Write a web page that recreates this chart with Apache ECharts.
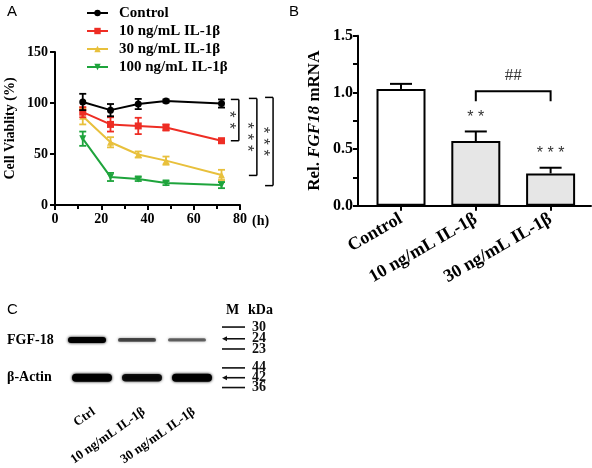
<!DOCTYPE html>
<html><head><meta charset="utf-8">
<script src="https://cdn.jsdelivr.net/npm/echarts@6/dist/echarts.min.js"></script>
<style>html,body{margin:0;padding:0;background:#fff}#c{width:592px;height:468px}</style>
</head><body><div id="c"></div>
<script>
// ---------- Panel A: cell viability ----------
const hours = [12, 24, 36, 48, 72];
const seriesNames = ['Control', '10 ng/mL IL-1β', '30 ng/mL IL-1β', '100 ng/mL IL-1β'];
const controlMean = [101, 93, 99, 102, 99.5];
const controlErr = [8, 6, 5, 1.5, 4];
const il10Mean = [91, 79, 77.5, 76, 63];
const il10Err = [5, 7, 8, 3, 2];
const il30Mean = [87, 61.5, 49.5, 43.5, 29.5];
const il30Err = [8, 5, 3, 4, 5];
const il100Mean = [65, 27.5, 25.5, 21.5, 19.5];
const il100Err = [7, 4, 2, 2, 3];
const viabilityTicks = [0, 50, 100, 150];
const hourTicks = [0, 20, 40, 60, 80];
// significance vs control at 72 h
const sigTop = [103.5, 104.5, 105.5];
const sigBottom = [63, 29, 19];
const sigLabels = ['**', '***', '***'];
const sigBracketX = [79.5, 87.3, 94.3];

// ---------- Panel B: FGF18 mRNA ----------
const mrnaGroups = ['Control', '10 ng/mL IL-1β', '30 ng/mL IL-1β'];
const mrnaMean = [1.03, 0.57, 0.285];
const mrnaErr = [0.045, 0.085, 0.05];
const mrnaStars = ['', '**', '***'];
const mrnaTicks = [0, 0.5, 1.0, 1.5];
const compareLabel = '##';
const compareLevel = 1.01;

// ---------- Panel C: western blot ----------
const blotLanes = ['Ctrl', '10 ng/mL IL-1β', '30 ng/mL IL-1β', 'M'];
const blotRows = ['FGF-18', 'β-Actin'];
const fgf18Intensity = [1.0, 0.5, 0.38];
const actinIntensity = [1.0, 0.85, 1.0];
const ladderLabels = [['30', '24', '23'], ['44', '42', '36']];
const ladderPos = [[-0.34, -0.03, 0.24], [-0.26, 0, 0.26]];
const ladderArrow = [[0, 1, 0], [0, 1, 0]];

const serif = 'Liberation Serif';
const sans = 'Liberation Sans';
const colors = ['#000000', '#ee2d24', '#e8c03c', '#1ea43c'];
const symbols = ['circle', 'rect', 'triangle', 'path://M0,0L10,0L5,9Z'];
const means = [controlMean, il10Mean, il30Mean, il100Mean];
const errs = [controlErr, il10Err, il30Err, il100Err];
const laneShift = 7; // blot lanes sit slightly left of the lane label anchors

function errBoth(color, cap) {
  return function (params, api) {
    const x = api.value(0), m = api.value(1), e = api.value(2);
    const top = api.coord([x, m + e]);
    const bot = api.coord([x, m - e]);
    const st = { stroke: color, lineWidth: 1.8 };
    return { type: 'group', children: [
      { type: 'line', shape: { x1: top[0], y1: top[1], x2: bot[0], y2: bot[1] }, style: st },
      { type: 'line', shape: { x1: top[0] - cap, y1: top[1], x2: top[0] + cap, y2: top[1] }, style: st },
      { type: 'line', shape: { x1: bot[0] - cap, y1: bot[1], x2: bot[0] + cap, y2: bot[1] }, style: st }
    ]};
  };
}
function errUp(params, api) {
  const x = api.value(0), m = api.value(1), e = api.value(2);
  const top = api.coord([x, m + e]);
  const base = api.coord([x, m]);
  const st = { stroke: '#000', lineWidth: 2 };
  return { type: 'group', children: [
    { type: 'line', shape: { x1: top[0], y1: top[1], x2: base[0], y2: base[1] }, style: st },
    { type: 'line', shape: { x1: top[0] - 11, y1: top[1], x2: top[0] + 11, y2: top[1] }, style: st }
  ]};
}

const series = [];
means.forEach((m, i) => {
  series.push({
    type: 'line', name: seriesNames[i], xAxisIndex: 0, yAxisIndex: 0,
    data: hours.map((h, j) => [h, m[j]]),
    symbol: symbols[i], symbolSize: 7,
    lineStyle: { color: colors[i], width: 2 }, itemStyle: { color: colors[i] },
    z: 10 - i, animation: false
  });
  series.push({
    type: 'custom', name: seriesNames[i] + ' error', xAxisIndex: 0, yAxisIndex: 0,
    data: hours.map((h, j) => [h, m[j], errs[i][j]]),
    renderItem: errBoth(colors[i], 3.5), z: 10 - i, animation: false
  });
});

// significance brackets in A
series.push({
  type: 'custom', xAxisIndex: 0, yAxisIndex: 0, clip: false, animation: false, z: 12,
  data: sigLabels.map((l, i) => [sigBracketX[i], sigTop[i], sigBottom[i], i]),
  renderItem: function (params, api) {
    const x = api.value(0);
    const t = api.coord([x, api.value(1)]), b = api.coord([x, api.value(2)]);
    const st = { stroke: '#000', lineWidth: 1.5 };
    const lbl = sigLabels[api.value(3)].split('').join(' ');
    return { type: 'group', children: [
      { type: 'line', shape: { x1: t[0], y1: t[1], x2: b[0], y2: b[1] }, style: st },
      { type: 'line', shape: { x1: t[0] - 8, y1: t[1], x2: t[0], y2: t[1] }, style: st },
      { type: 'line', shape: { x1: b[0] - 8, y1: b[1], x2: b[0], y2: b[1] }, style: st },
      { type: 'text', x: t[0] - 10, y: (t[1] + b[1]) / 2, rotation: -Math.PI / 2,
        style: { text: lbl, fill: '#3a3a3a', font: '17px ' + sans, align: 'center', verticalAlign: 'middle' } }
    ]};
  }
});

// Panel B bars
series.push({
  type: 'bar', xAxisIndex: 1, yAxisIndex: 1, barWidth: 49, animation: false,
  data: mrnaMean.map((v, i) => ({ value: [i, v], itemStyle: { color: i === 0 ? '#ffffff' : '#e6e6e6' } })),
  itemStyle: { borderColor: '#000', borderWidth: 2 }, z: 2
});
series.push({
  type: 'custom', xAxisIndex: 1, yAxisIndex: 1, animation: false, z: 3,
  data: mrnaMean.map((v, i) => [i, v, mrnaErr[i]]),
  renderItem: errUp
});
series.push({
  type: 'custom', xAxisIndex: 1, yAxisIndex: 1, animation: false, z: 3,
  data: mrnaMean.map((v, i) => [i, v + mrnaErr[i]]).filter((d, i) => mrnaStars[i] !== ''),
  renderItem: function (params, api) {
    const i = api.value(0);
    const p = api.coord([i, api.value(1)]);
    return { type: 'text', x: p[0], y: p[1] - 14,
      style: { text: mrnaStars[i].split('').join(' '), fill: '#333', font: '16px ' + sans, align: 'center', verticalAlign: 'middle' } };
  }
});
series.push({
  type: 'custom', xAxisIndex: 1, yAxisIndex: 1, animation: false, z: 3,
  data: [[1.5, compareLevel]],
  renderItem: function (params, api) {
    const a = api.coord([1, api.value(1)]), b = api.coord([2, api.value(1)]);
    return { type: 'group', children: [
      { type: 'polyline', shape: { points: [[a[0], a[1] + 10], [a[0], a[1]], [b[0], b[1]], [b[0], b[1] + 10]] }, style: { stroke: '#000', lineWidth: 2, fill: null } },
      { type: 'text', x: (a[0] + b[0]) / 2, y: a[1] - 16,
        style: { text: compareLabel, fill: '#333', font: '17px ' + serif, align: 'center', verticalAlign: 'middle' } }
    ]};
  }
});

// Panel C bands
const bandData = [];
fgf18Intensity.forEach((v, i) => bandData.push([i, 0, v]));
actinIntensity.forEach((v, i) => bandData.push([i, 1, v]));
series.push({
  type: 'custom', xAxisIndex: 2, yAxisIndex: 2, animation: false, clip: false,
  data: bandData,
  renderItem: function (params, api) {
    const lane = api.value(0), row = api.value(1), v = api.value(2);
    const c = api.coord([lane, row]);
    const bw = api.size([1, 0])[0];
    const w = bw * (row === 0 ? 0.76 : 0.8);
    const h = row === 0 ? 1.5 + 4.5 * v : 5 + 3 * v;
    const cx = c[0] - laneShift + (row === 0 ? 0 : 5);
    const a = 0.25 + 0.75 * v;
    const col = 'rgba(0,0,0,' + a.toFixed(2) + ')';
    return { type: 'rect', shape: { x: cx - w / 2, y: c[1] - h / 2, width: w, height: h, r: h / 2 },
      style: { fill: col, shadowBlur: 3, shadowColor: col } };
  }
});
// ladder
const ladderData = [];
ladderLabels.forEach((row, r) => row.forEach((l, k) => ladderData.push([3, r, ladderPos[r][k], r * 3 + k])));
series.push({
  type: 'custom', xAxisIndex: 2, yAxisIndex: 2, animation: false, clip: false,
  data: ladderData,
  renderItem: function (params, api) {
    const c = api.coord([api.value(0), api.value(1)]);
    const cx = c[0] - laneShift;
    const bh = api.size([0, 1])[1];
    const y = c[1] + api.value(2) * bh;
    const idx = api.value(3), r = Math.floor(idx / 3), k = idx % 3;
    const arrow = ladderArrow[r][k];
    const x0 = cx - 15, x1 = cx + 8;
    const kids = [
      { type: 'line', shape: { x1: x0 + (arrow ? 3 : 0), y1: y, x2: x1, y2: y }, style: { stroke: '#111', lineWidth: 1.6 } },
      { type: 'text', x: cx + 15, y: y, style: { text: ladderLabels[r][k], fill: '#111', font: 'bold 14px ' + serif, align: 'left', verticalAlign: 'middle' } }
    ];
    if (arrow) kids.push({ type: 'polygon', shape: { points: [[x0, y], [x0 + 5, y - 2.5], [x0 + 5, y + 2.5]] }, style: { fill: '#111' } });
    return { type: 'group', children: kids };
  }
});

const boldSerif = (s) => ({ fontFamily: serif, fontWeight: 'bold', fontSize: s, color: '#000' });

const option = {
  backgroundColor: '#fff',
  animation: false,
  legend: {
    data: seriesNames, orient: 'vertical', left: 81, top: 0,
    itemWidth: 21, itemHeight: 8, itemGap: 2,
    textStyle: Object.assign(boldSerif(15), { padding: [0, 0, 0, 6], lineHeight: 16 })
  },
  grid: [
    { left: 55, top: 52, width: 185, height: 153 },
    { left: 358, top: 35.7, right: 1, height: 170 },
    { left: 62 + laneShift, top: 321, width: 200, height: 76 }
  ],
  xAxis: [
    { type: 'value', gridIndex: 0, min: hourTicks[0], max: hourTicks[hourTicks.length - 1], interval: 20,
      name: '(h)', nameLocation: 'end', nameGap: 12,
      nameTextStyle: Object.assign(boldSerif(14), { verticalAlign: 'top', padding: [9, 0, 0, 0] }),
      axisLine: { onZero: false, lineStyle: { color: '#000', width: 2 } },
      axisTick: { length: 5, lineStyle: { width: 2, color: '#000' } },
      minorTick: { show: true, splitNumber: 2, length: 4, lineStyle: { width: 2, color: '#000' } },
      splitLine: { show: false }, minorSplitLine: { show: false },
      axisLabel: Object.assign(boldSerif(14), { margin: 7 }) },
    { type: 'value', gridIndex: 1, min: -0.575, max: 2.54,
      axisLine: { onZero: false, lineStyle: { color: '#000', width: 2 } },
      axisTick: { length: 5, lineStyle: { width: 2, color: '#000' }, customValues: [0, 1, 2] },
      splitLine: { show: false },
      axisLabel: Object.assign(boldSerif(18), { rotate: 30, margin: 12, customValues: [0, 1, 2], formatter: (v) => mrnaGroups[Math.round(v)] }) },
    { type: 'category', gridIndex: 2, data: blotLanes,
      axisLine: { show: false }, axisTick: { show: false },
      axisLabel: Object.assign(boldSerif(13), { rotate: 35, margin: 14, interval: 0, formatter: (v) => v === 'M' ? '' : v }) }
  ],
  yAxis: [
    { type: 'value', gridIndex: 0, min: viabilityTicks[0], max: viabilityTicks[viabilityTicks.length - 1], interval: 50,
      name: 'Cell Viablity (%)', nameLocation: 'middle', nameGap: 38, nameTextStyle: boldSerif(14),
      axisLine: { show: true, onZero: false, lineStyle: { color: '#000', width: 2 } },
      axisTick: { show: true, length: 5, lineStyle: { width: 2, color: '#000' } },
      splitLine: { show: false },
      axisLabel: Object.assign(boldSerif(14), { margin: 7 }) },
    { type: 'value', gridIndex: 1, min: mrnaTicks[0], max: mrnaTicks[mrnaTicks.length - 1], interval: 0.5,
      name: 'Rel. {i|FGF18} mRNA', nameLocation: 'middle', nameGap: 35,
      nameTextStyle: Object.assign(boldSerif(17), { rich: { i: { fontFamily: serif, fontWeight: 'bold', fontStyle: 'italic', fontSize: 17 } } }),
      axisLine: { show: true, onZero: false, lineStyle: { color: '#000', width: 2 } },
      axisTick: { show: true, length: 5, lineStyle: { width: 2, color: '#000' } },
      minorTick: { show: true, splitNumber: 2, length: 5, lineStyle: { width: 2, color: '#000' } },
      splitLine: { show: false }, minorSplitLine: { show: false },
      axisLabel: Object.assign(boldSerif(16), { margin: 5, formatter: (v) => v.toFixed(1) }) },
    { type: 'category', gridIndex: 2, data: blotRows, inverse: true,
      axisLine: { show: false }, axisTick: { show: false },
      axisLabel: Object.assign(boldSerif(14), { align: 'left', margin: 55 + laneShift }) }
  ],
  graphic: [
    { type: 'text', left: 7, top: 4, style: { text: 'A', font: '15px ' + sans, fill: '#000' } },
    { type: 'text', left: 289, top: 4, style: { text: 'B', font: '15px ' + sans, fill: '#000' } },
    { type: 'text', left: 7, top: 302, style: { text: 'C', font: '15px ' + sans, fill: '#000' } },
    { type: 'text', left: 226, top: 303, style: { text: 'M', font: 'bold 14px ' + serif, fill: '#000' } },
    { type: 'text', left: 248, top: 303, style: { text: 'kDa', font: 'bold 14px ' + serif, fill: '#000' } }
  ],
  series: series
};
const chart = echarts.init(document.getElementById('c'));
chart.setOption(option);
</script>
</body></html>
